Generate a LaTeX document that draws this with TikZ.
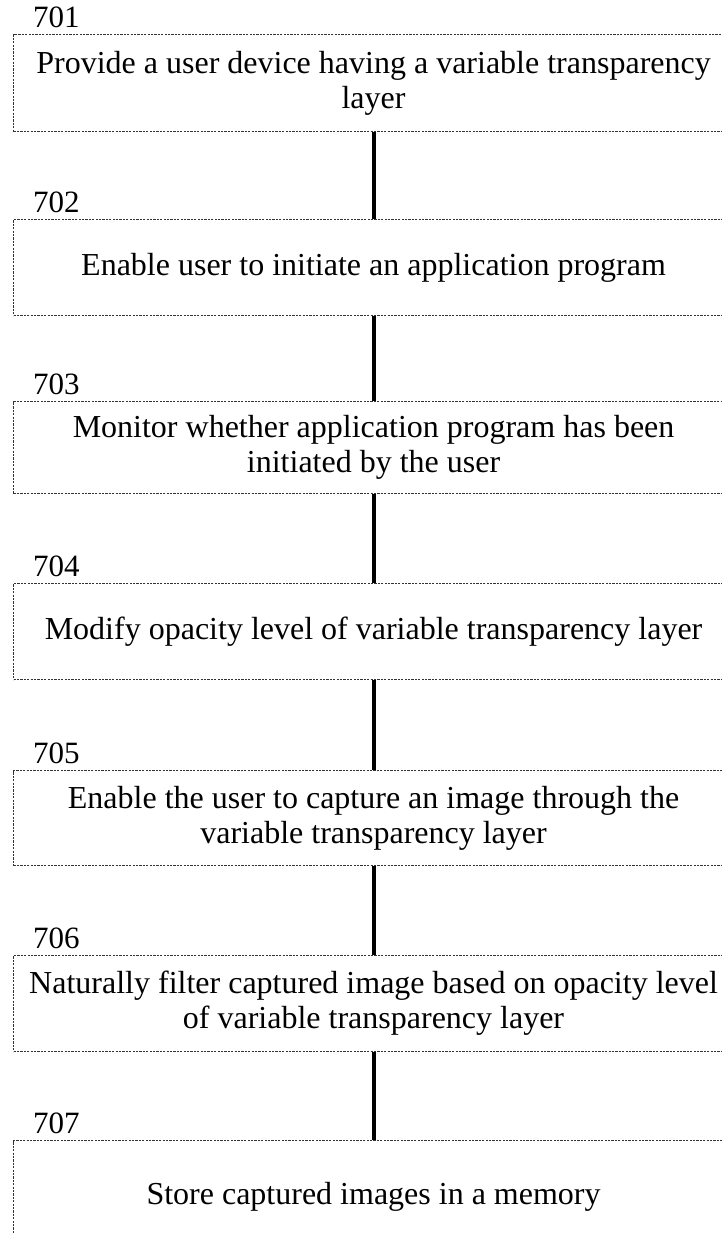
\documentclass[tikz,border=0pt]{standalone}
\usepackage{fontspec}
\setmainfont{Liberation Serif}
\begin{document}
\begin{tikzpicture}[x=1pt,y=-1pt,
  stepbox/.style={draw=black!80, line width=1.1pt, dash pattern=on 2.2pt off 1.2pt,
    minimum width=720pt, inner sep=0pt, align=center, anchor=north west,
    font=\fontsize{32}{35}\selectfont},
  steplabel/.style={anchor=south west, inner sep=0pt, font=\fontsize{31}{35}\selectfont},
  link/.style={line width=4pt, black}]
\useasboundingbox (0,0) rectangle (722,1234);
\node[stepbox, minimum height=97pt] (b1) at (13,34) {Provide a user device having a variable transparency\\layer};
\node[stepbox, minimum height=96pt] (b2) at (13,219) {Enable user to initiate an application program};
\node[stepbox, minimum height=92pt] (b3) at (13,401) {Monitor whether application program has been\\initiated by the user};
\node[stepbox, minimum height=96pt] (b4) at (13,583) {Modify opacity level of variable transparency layer};
\node[stepbox, minimum height=95pt] (b5) at (13,770) {Enable the user to capture an image through the\\variable transparency layer};
\node[stepbox, minimum height=96pt] (b6) at (13,955) {Naturally filter captured image based on opacity level\\of variable transparency layer};
\node[stepbox, minimum height=112pt] (b7) at (13,1140) {Store captured images in a memory};
\node[steplabel] (l1) at (33,28) {701};
\node[steplabel] (l2) at (33,213) {702};
\node[steplabel] (l3) at (33,395) {703};
\node[steplabel] (l4) at (33,577) {704};
\node[steplabel] (l5) at (33,764) {705};
\node[steplabel] (l6) at (33,949) {706};
\node[steplabel] (l7) at (33,1134) {707};
\draw[link] (b1.south) -- (b2.north);
\draw[link] (b2.south) -- (b3.north);
\draw[link] (b3.south) -- (b4.north);
\draw[link] (b4.south) -- (b5.north);
\draw[link] (b5.south) -- (b6.north);
\draw[link] (b6.south) -- (b7.north);
\end{tikzpicture}
\end{document}
